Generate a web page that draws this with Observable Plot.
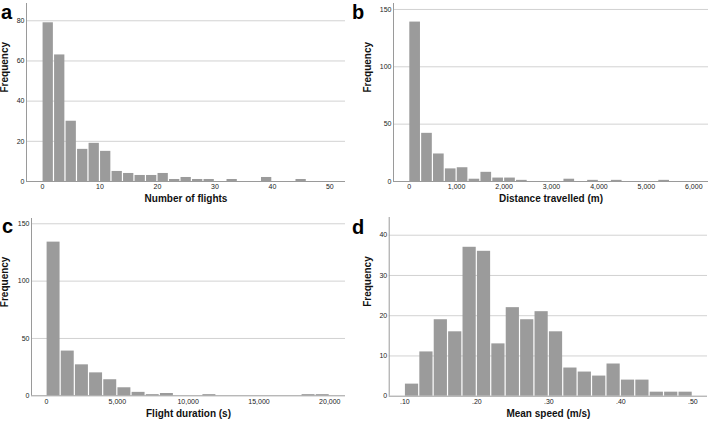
<!DOCTYPE html>
<html>
<head>
<meta charset="utf-8">
<script src="https://cdn.jsdelivr.net/npm/d3@7"></script>
<script src="https://cdn.jsdelivr.net/npm/@observablehq/plot@0.6"></script>
<style>
  html, body { margin: 0; padding: 0; background: #fff; }
  #root { position: relative; width: 709px; height: 421px; overflow: hidden; background: #fff;
          font-family: "Liberation Sans", Arial, Helvetica, sans-serif; }
  .panel { position: absolute; }
  .letter { position: absolute; font-weight: bold; font-size: 20px; line-height: 0.8; color: #000; }
</style>
</head>
<body>
<div id="root"></div>
<script>
// ---- Data ----
// a: Number of flights, bins of 2 starting at 0
const flightsBinStart = 0;
const flightsBinWidth = 2;
const flightsCounts = [79, 63, 30, 16, 19, 15, 5, 4, 3, 3, 4, 1, 2, 1, 1, 0, 1, 0, 0, 2, 0, 0, 1, 0, 0];
const flightsTicks = [0, 10, 20, 30, 40, 50];
const flightsYTicks = [0, 20, 40, 60, 80];

// b: Distance travelled (m), bins of 250 starting at 0
const distBinStart = 0;
const distBinWidth = 250;
const distCounts = [139, 42, 24, 11, 12, 2, 8, 3, 3, 1, 0, 0, 0, 2, 0, 1, 0, 1, 0, 0, 0, 1, 0, 0];
const distTicks = [0, 1000, 2000, 3000, 4000, 5000, 6000];
const distYTicks = [0, 50, 100, 150];

// c: Flight duration (s), bins of 1000 starting at 0
const durBinStart = 0;
const durBinWidth = 1000;
const durCounts = [134, 39, 27, 20, 14, 7, 3, 1, 2, 0, 0, 1, 0, 0, 0, 0, 0, 0, 1, 1];
const durTicks = [0, 5000, 10000, 15000, 20000];
const durYTicks = [0, 50, 100, 150];

// d: Mean speed (m/s), bins of 0.02 starting at 0.10
const speedBinStart = 0.10;
const speedBinWidth = 0.02;
const speedCounts = [3, 11, 19, 16, 37, 36, 13, 22, 19, 21, 16, 7, 6, 5, 8, 4, 4, 1, 1, 1];
const speedTicks = [0.1, 0.2, 0.3, 0.4, 0.5];
const speedYTicks = [0, 10, 20, 30, 40];

const panelLetters = ["a", "b", "c", "d"];
const xTitles = ["Number of flights", "Distance travelled (m)", "Flight duration (s)", "Mean speed (m/s)"];
const yTitle = "Frequency";

// ---- Helpers ----
function toBins(start, width, counts) {
  return counts.map((c, i) => ({ x1: start + i * width, x2: start + (i + 1) * width, count: c }))
               .filter(d => d.count > 0);
}

const BAR = "#9b9b9b";
const GRID = "#d2d2d2";
const AXIS = "#9a9a9a";
const FONT = "'Liberation Sans', Arial, Helvetica, sans-serif";

function histogram(cfg) {
  const bins = toBins(cfg.start, cfg.width, cfg.counts);
  return Plot.plot({
    width: cfg.w,
    height: cfg.h,
    marginLeft: cfg.ml,
    marginRight: cfg.mr,
    marginTop: cfg.mt,
    marginBottom: cfg.mb,
    style: { fontFamily: FONT, fontSize: "7px", color: "#222", background: "transparent", overflow: "visible" },
    x: { domain: cfg.xDomain, ticks: cfg.xTicks, tickFormat: cfg.xFormat, tickSize: 0, tickPadding: 3, label: null },
    y: { domain: cfg.yDomain, ticks: cfg.yTicks, tickSize: 0, tickPadding: 2, label: null },
    marks: [
      Plot.gridY(cfg.yTicks.filter(t => t > 0), { stroke: GRID, strokeOpacity: 1, strokeWidth: 1 }),
      Plot.rectY(bins, { x1: "x1", x2: "x2", y: "count", fill: BAR, insetLeft: 0.6, insetRight: 0.6 }),
      Plot.ruleY([0], { stroke: AXIS, strokeWidth: 1 }),
      Plot.ruleX([cfg.xDomain[0]], { stroke: AXIS, strokeWidth: 1 }),
      Plot.text([cfg.xTitle], { text: d => d, frameAnchor: "bottom", dy: cfg.xTitleDy, fontWeight: "bold", fontSize: 10, fill: "#111" }),
      Plot.text([yTitle], { text: d => d, frameAnchor: "left", dx: cfg.yTitleDx, rotate: -90, fontWeight: "bold", fontSize: 10, fill: "#111" })
    ]
  });
}

const commaFmt = d3.format(",");
const speedFmt = d => d3.format(".2f")(d).replace(/^0/, "");

const panels = [
  { left: 0, top: 0, w: 350, h: 210, ml: 26, mr: 5, mt: 3, mb: 29,
    start: flightsBinStart, width: flightsBinWidth, counts: flightsCounts,
    xDomain: [-2.78, 52.72], xTicks: flightsTicks, xFormat: d => String(d),
    yDomain: [0, 88.6], yTicks: flightsYTicks, xTitle: xTitles[0], xTitleDy: 20, yTitleDx: -22 },
  { left: 350, top: 0, w: 359, h: 210, ml: 43, mr: 1, mt: 3, mb: 29,
    start: distBinStart, width: distBinWidth, counts: distCounts,
    xDomain: [-331, 6310], xTicks: distTicks, xFormat: commaFmt,
    yDomain: [0, 155.2], yTicks: distYTicks, xTitle: xTitles[1], xTitleDy: 20.5, yTitleDx: -26 },
  { left: 0, top: 205, w: 350, h: 216, ml: 31, mr: 5, mt: 13, mb: 25.7,
    start: durBinStart, width: durBinWidth, counts: durCounts,
    xDomain: [-1059, 21108], xTicks: durTicks, xFormat: commaFmt,
    yDomain: [0, 154.6], yTicks: durYTicks, xTitle: xTitles[2], xTitleDy: 20.7, yTitleDx: -27 },
  { left: 350, top: 205, w: 359, h: 216, ml: 38.7, mr: 2, mt: 12, mb: 25.3,
    start: speedBinStart, width: speedBinWidth, counts: speedCounts,
    xDomain: [0.0783, 0.5204], xTicks: speedTicks, xFormat: speedFmt,
    yDomain: [0, 44.4], yTicks: speedYTicks, xTitle: xTitles[3], xTitleDy: 20.5, yTitleDx: -21 }
];

const letterPos = [
  { left: 1, top: 3.6 },
  { left: 352, top: 3.6 },
  { left: 2, top: 217.6 },
  { left: 352, top: 218.6 }
];

const root = document.getElementById("root");
panels.forEach((p, i) => {
  const wrap = document.createElement("div");
  wrap.className = "panel";
  wrap.style.left = p.left + "px";
  wrap.style.top = p.top + "px";
  wrap.appendChild(histogram(p));
  root.appendChild(wrap);
});
panelLetters.forEach((l, i) => {
  const s = document.createElement("span");
  s.className = "letter";
  s.textContent = l;
  s.style.left = letterPos[i].left + "px";
  s.style.top = letterPos[i].top + "px";
  root.appendChild(s);
});
</script>
</body>
</html>
